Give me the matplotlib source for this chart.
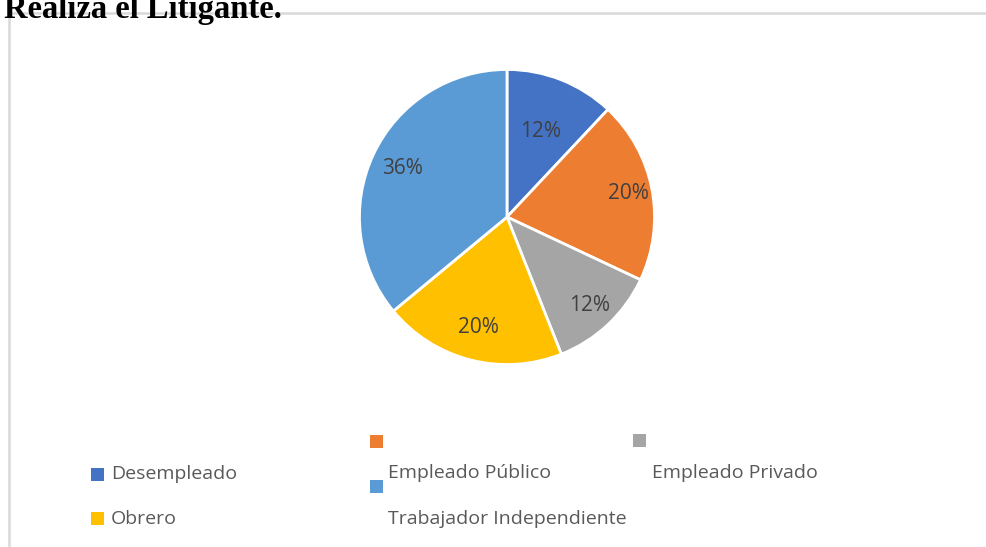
import matplotlib
matplotlib.use('Agg')
import matplotlib.pyplot as plt
from matplotlib.patches import Rectangle
import numpy as np

# data
categories = ['Desempleado', 'Empleado Público', 'Empleado Privado',
              'Obrero', 'Trabajador Independiente']
values = [12, 20, 12, 20, 36]
colors = ['#4472C4', '#ED7D31', '#A5A5A5', '#FFC000', '#5B9BD5']
title = 'Realiza el Litigante.'

W, H = 987, 547
fig = plt.figure(figsize=(W / 100, H / 100), dpi=100)

def fx(x):
    return x / W

def fy(y):
    return 1 - y / H

# chart frame (cut off at right/bottom)
fig.patches.append(Rectangle((fx(9), fy(H + 5)), fx(W + 20), fy(13) - fy(H + 5),
                             transform=fig.transFigure, fill=False,
                             edgecolor='#d9d9d9', lw=1.8, zorder=0))

# title sits partly above the top edge, as in the source image
fig.text(fx(4), fy(18), title, fontsize=23.5, fontweight='bold',
         family='Liberation Serif', ha='left', va='baseline', zorder=5)

# pie
cx, cy, r = 507, 217, 149
ax = fig.add_axes([fx(cx - r), fy(cy + r), (2 * r) / W, (2 * r) / H])
wedges, _ = ax.pie(values, colors=colors, startangle=90, counterclock=False,
                   wedgeprops=dict(edgecolor='white', linewidth=2))
ax.set_xlim(-1.01, 1.01)
ax.set_ylim(-1.01, 1.01)

# label distances (Excel "best fit")
dists = [0.62, 0.84, 0.82, 0.77, 0.78]
total = sum(values)
for w, v, d in zip(wedges, values, dists):
    ang = np.deg2rad((w.theta1 + w.theta2) / 2)
    ax.text(d * np.cos(ang), d * np.sin(ang), f'{round(100 * v / total)}%',
            ha='center', va='center', fontsize=15, color='#404040',
            family='Open Sans')

# broken-wrap legend layout as in the original
sq = 13
square_pos = [(91, 468), (370, 435), (633, 434), (91, 512), (370, 480)]
text_pos = [(111, 474), (388, 473), (652, 473), (111, 519), (388, 519)]
for name, col, (sx, sy), (tx, ty) in zip(categories, colors, square_pos, text_pos):
    fig.patches.append(Rectangle((fx(sx), fy(sy + sq)), sq / W, sq / H,
                                 transform=fig.transFigure, facecolor=col,
                                 edgecolor='none'))
    fig.text(fx(tx), fy(ty), name, fontsize=14, color='#595959',
             family='Open Sans', ha='left', va='center')

fig.savefig('out.png', dpi=100)
